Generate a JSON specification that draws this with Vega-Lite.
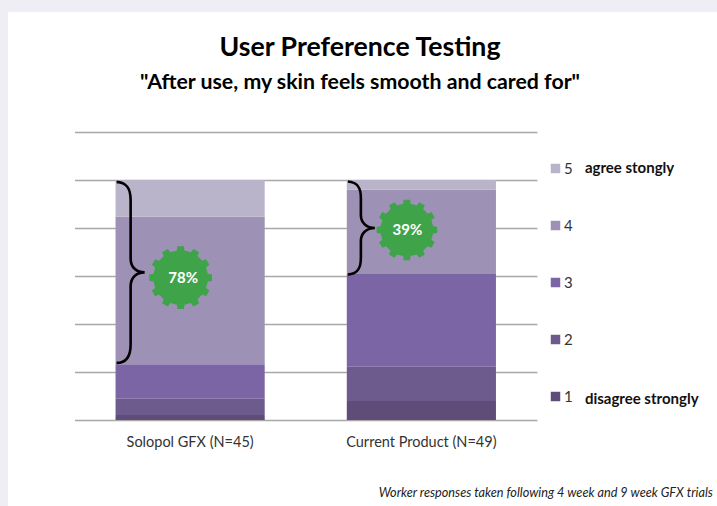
{
"$schema":"https://vega.github.io/schema/vega-lite/v6.json",
"autosize":{"type":"none"},
"width":709,"height":494,
"padding":{"left":8,"top":12,"right":0,"bottom":0},
"background":"#f0eef5",
"config":{"view":{"fill":"#ffffff","stroke":null},"font":"Lato"},
"title":{"text":"User Preference Testing","subtitle":"\"After use, my skin feels smooth and cared for\"","anchor":"middle","frame":"group","dx":-2.5,"offset":-81,"font":"Lato","fontSize":26.7,"fontWeight":"bold","color":"#000000","subtitleFont":"Lato","subtitleFontSize":21.3,"subtitleFontWeight":"bold","subtitleColor":"#000000","subtitlePadding":10},
"layer":[
{"data":{"values":[
{"product":"Solopol GFX (N=45)","response":"1","pct":2.1},
{"product":"Solopol GFX (N=45)","response":"2","pct":6.8},
{"product":"Solopol GFX (N=45)","response":"3","pct":14.3},
{"product":"Solopol GFX (N=45)","response":"4","pct":61.5},
{"product":"Solopol GFX (N=45)","response":"5","pct":15.3},
{"product":"Current Product (N=49)","response":"1","pct":7.9},
{"product":"Current Product (N=49)","response":"2","pct":14.3},
{"product":"Current Product (N=49)","response":"3","pct":38.6},
{"product":"Current Product (N=49)","response":"4","pct":35.2},
{"product":"Current Product (N=49)","response":"5","pct":4.0}
]},
"mark":{"type":"bar"},
"encoding":{
"x":{"field":"product","type":"nominal","sort":null,"title":null,
"scale":{"domain":["Solopol GFX (N=45)","Current Product (N=49)"],"range":[66.5,529],"paddingInner":0.355,"paddingOuter":0.1775},
"axis":{"offset":-86,"labelAngle":0,"domain":false,"ticks":false,"labelFont":"Lato","labelFontSize":14.5,"labelColor":"#333333","labelPadding":15,"grid":false}},
"y":{"field":"pct","type":"quantitative","stack":"zero","title":null,
"scale":{"domain":[0,120],"range":[408,120],"nice":false},
"axis":{"values":[0,20,40,60,80,100,120],"labels":false,"ticks":false,"domain":false,"grid":true,"gridColor":"#a8a8a8","gridWidth":1.4}},
"color":{"field":"response","type":"nominal",
"scale":{"domain":["5","4","3","2","1"],"range":["#bab4cb","#9d91b5","#7b65a4","#6e5b8e","#604c78"]},
"legend":{"orient":"none","legendX":540,"legendY":149,"title":null,"symbolType":"square","symbolSize":90,"symbolStrokeWidth":0,"labelFont":"Lato","labelFontSize":15,"labelColor":"#333333","labelOffset":1,"rowPadding":41}},
"order":{"field":"response","type":"ordinal","sort":"ascending"}
}},
{"data":{"values":[{"product":"Solopol GFX (N=45)","mid":61.5}]},
"mark":{"type":"point","filled":false,"stroke":"#000000","strokeWidth":2.6,"opacity":1,"size":4,"xOffset":-45.5,
"shape":"M-28,-90.5C-18,-90 -14,-84 -14,-72L-14,-14C-14,-5 -8,0 0,0C-8,0 -14,5 -14,14L-14,72C-14,84 -18,90.5 -28,90.5"},
"encoding":{"x":{"field":"product","type":"nominal"},"y":{"field":"mid","type":"quantitative"}}},
{"data":{"values":[{"product":"Current Product (N=49)","mid":80}]},
"mark":{"type":"point","filled":false,"stroke":"#000000","strokeWidth":2.6,"opacity":1,"size":4,"xOffset":-46.5,
"shape":"M-27,-46.5C-17,-46 -14,-40 -14,-30L-14,-13C-14,-5 -8,0 0,0C-8,0 -14,5 -14,13L-14,30C-14,40 -17,46 -27,46.5"},
"encoding":{"x":{"field":"product","type":"nominal"},"y":{"field":"mid","type":"quantitative"}}},
{"data":{"values":[{"product":"Solopol GFX (N=45)","share":59.3,"label":"78%"}]},
"layer":[
{"mark":{"type":"point","filled":true,"fill":"#3fa34a","stroke":null,"opacity":1,"size":3969,"xOffset":-9.5,
"shape":"M.8615,-.1211L.9945,-.1045L.9945,.1045L.8615,.1211L.8066,.3259L.9135,.4067L.8090,.5878L.6856,.5356L.5356,.6856L.5878,.8090L.4067,.9135L.3259,.8066L.1211,.8615L.1045,.9945L-.1045,.9945L-.1211,.8615L-.3259,.8066L-.4067,.9135L-.5878,.8090L-.5356,.6856L-.6856,.5356L-.8090,.5878L-.9135,.4067L-.8066,.3259L-.8615,.1211L-.9945,.1045L-.9945,-.1045L-.8615,-.1211L-.8066,-.3259L-.9135,-.4067L-.8090,-.5878L-.6856,-.5356L-.5356,-.6856L-.5878,-.8090L-.4067,-.9135L-.3259,-.8066L-.1211,-.8615L-.1045,-.9945L.1045,-.9945L.1211,-.8615L.3259,-.8066L.4067,-.9135L.5878,-.8090L.5356,-.6856L.6856,-.5356L.8090,-.5878L.9135,-.4067L.8066,-.3259Z"},
"encoding":{"x":{"field":"product","type":"nominal"},"y":{"field":"share","type":"quantitative"}}},
{"mark":{"type":"text","color":"#ffffff","font":"Lato","fontWeight":"bold","fontSize":15,"xOffset":-7,"align":"center","baseline":"middle"},
"encoding":{"x":{"field":"product","type":"nominal"},"y":{"field":"share","type":"quantitative"},"text":{"field":"label"}}}
]},
{"data":{"values":[{"product":"Current Product (N=49)","share":79.2,"label":"39%"}]},
"layer":[
{"mark":{"type":"point","filled":true,"fill":"#3fa34a","stroke":null,"opacity":1,"size":3700,"xOffset":-14.5,
"shape":"M.8615,-.1211L.9945,-.1045L.9945,.1045L.8615,.1211L.8066,.3259L.9135,.4067L.8090,.5878L.6856,.5356L.5356,.6856L.5878,.8090L.4067,.9135L.3259,.8066L.1211,.8615L.1045,.9945L-.1045,.9945L-.1211,.8615L-.3259,.8066L-.4067,.9135L-.5878,.8090L-.5356,.6856L-.6856,.5356L-.8090,.5878L-.9135,.4067L-.8066,.3259L-.8615,.1211L-.9945,.1045L-.9945,-.1045L-.8615,-.1211L-.8066,-.3259L-.9135,-.4067L-.8090,-.5878L-.6856,-.5356L-.5356,-.6856L-.5878,-.8090L-.4067,-.9135L-.3259,-.8066L-.1211,-.8615L-.1045,-.9945L.1045,-.9945L.1211,-.8615L.3259,-.8066L.4067,-.9135L.5878,-.8090L.5356,-.6856L.6856,-.5356L.8090,-.5878L.9135,-.4067L.8066,-.3259Z"},
"encoding":{"x":{"field":"product","type":"nominal"},"y":{"field":"share","type":"quantitative"}}},
{"mark":{"type":"text","color":"#ffffff","font":"Lato","fontWeight":"bold","fontSize":15,"xOffset":-14,"align":"center","baseline":"middle"},
"encoding":{"x":{"field":"product","type":"nominal"},"y":{"field":"share","type":"quantitative"},"text":{"field":"label"}}}
]},
{"data":{"values":[{"product":"Current Product (N=49)","pos":105,"note":"agree stongly"},{"product":"Current Product (N=49)","pos":8.8,"note":"disagree strongly"}]},
"mark":{"type":"text","align":"left","baseline":"middle","font":"Lato","fontWeight":"bold","fontSize":15,"color":"#111111","dx":163.5},
"encoding":{"x":{"field":"product","type":"nominal"},"y":{"field":"pos","type":"quantitative"},"text":{"field":"note"}}},
{"data":{"values":[{"product":"Current Product (N=49)","pos":-30.4,"note":"Worker responses taken following 4 week and 9 week GFX trials"}]},
"mark":{"type":"text","align":"right","baseline":"middle","font":"Lato","fontStyle":"italic","fontSize":12.7,"color":"#222222","dx":291.5},
"encoding":{"x":{"field":"product","type":"nominal"},"y":{"field":"pos","type":"quantitative"},"text":{"field":"note"}}}
]
}
